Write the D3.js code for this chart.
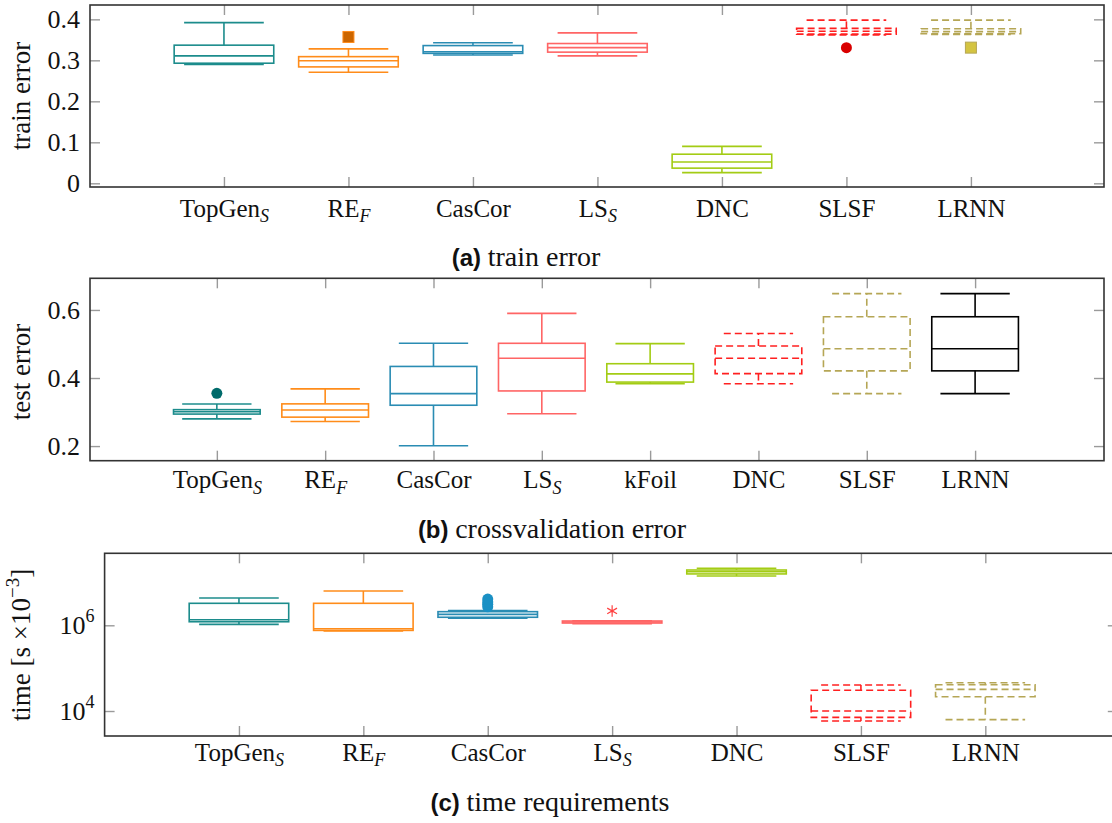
<!DOCTYPE html>
<html><head><meta charset="utf-8">
<script src="https://cdn.jsdelivr.net/npm/d3@7"></script>
<style>
html,body{margin:0;padding:0;background:#fff;}
svg{display:block;}
</style>
</head><body>
<svg id="chart" width="1112" height="823"></svg>
<script>
// ---------- DATA ----------
// each box: [lowerWhisker, q1, median, q3, upperWhisker]
const catsA = ["TopGen_S", "RE_F", "CasCor", "LS_S", "DNC", "SLSF", "LRNN"];
const boxesA = [
  [0.290, 0.293, 0.311, 0.337, 0.392],
  [0.271, 0.284, 0.299, 0.309, 0.328],
  [0.313, 0.317, 0.321, 0.336, 0.343],
  [0.311, 0.320, 0.331, 0.341, 0.367],
  [0.026, 0.037, 0.052, 0.071, 0.090],
  [0.362, 0.364, 0.371, 0.378, 0.398],
  [0.363, 0.365, 0.370, 0.377, 0.398]
];
const outliersA = [[], [0.357], [], [], [], [0.331], [0.331]];
const yTicksA = [0, 0.1, 0.2, 0.3, 0.4];

const catsB = ["TopGen_S", "RE_F", "CasCor", "LS_S", "kFoil", "DNC", "SLSF", "LRNN"];
const boxesB = [
  [0.280, 0.294, 0.301, 0.307, 0.3235],
  [0.272, 0.285, 0.306, 0.324, 0.368],
  [0.201, 0.320, 0.354, 0.434, 0.502],
  [0.295, 0.362, 0.458, 0.502, 0.590],
  [0.383, 0.388, 0.412, 0.442, 0.501],
  [0.383, 0.413, 0.458, 0.494, 0.531],
  [0.354, 0.421, 0.486, 0.580, 0.648],
  [0.354, 0.421, 0.486, 0.580, 0.648]
];
const outliersB = [[0.355], [], [], [], [], [], [], []];
const yTicksB = [0.2, 0.4, 0.6];

const catsC = ["TopGen_S", "RE_F", "CasCor", "LS_S", "DNC", "SLSF", "LRNN"];
const boxesC = [
  [1.05e6, 1.21e6, 1.35e6, 3.26e6, 4.34e6],
  [7.4e5, 7.6e5, 8.3e5, 3.26e6, 6.3e6],
  [1.46e6, 1.54e6, 1.80e6, 2.08e6, 2.20e6],
  [1.09e6, 1.13e6, 1.19e6, 1.26e6, 1.28e6],
  [1.41e7, 1.58e7, 1.78e7, 1.95e7, 2.14e7],
  [5.85e3, 7.1e3, 1.0e4, 3.04e4, 4.05e4],
  [6.3e3, 2.16e4, 3.2e4, 4.1e4, 4.57e4]
];
const outliersC = [[], [], [2.7e6, 3.1e6, 3.5e6, 4.1e6], [2.16e6], [], [], []];
const yTicksC = [1e4, 1e6];

// ---------- STYLES ----------
const styleSeq7 = [
  {c:"#1c8c8c", dash:null, oc:"#006b6b", om:"circle"},
  {c:"#ff8c1a", dash:null, oc:"#cc6600", om:"square"},
  {c:"#2a8cb3", dash:null, oc:"#1a90c4", om:"circle"},
  {c:"#ff6565", dash:null, oc:"#ff4040", om:"star"},
  {c:"#a3cc14", dash:null, oc:"#a3cc14", om:"circle"},
  {c:"#ff2020", dash:"7,4", oc:"#d90000", om:"circle"},
  {c:"#b5a655", dash:"7,4", oc:"#d4c441", om:"square"}
];
const styleSeq8 = styleSeq7.concat([{c:"#000000", dash:null, oc:"#000", om:"circle"}]);

const svg = d3.select("#chart");
const SERIF = "'Liberation Serif', 'Times New Roman', serif";

function setCatLabel(textSel, lab, fs){
  textSel.text(null);
  const parts = lab.split("_");
  textSel.append("tspan").text(parts[0]);
  if (parts.length > 1) {
    textSel.append("tspan").attr("font-style","italic").attr("font-size", fs*0.72)
      .attr("dy", fs*0.22).text(parts[1]);
  }
}

function drawPanel(o){
  const g = svg.append("g");
  const x = d3.scaleLinear().domain(o.xDomain).range([o.left, o.right]);
  const y = o.y.range([o.bottom, o.top]);
  const idx = o.cats.map((d,i)=>i+1);

  // tick marks (inward) via d3 axes
  const tickCol = "#9a9a9a";
  const axL = g.append("g").attr("transform", `translate(${o.left},0)`)
    .call(d3.axisLeft(y).tickValues(o.yTicks).tickSize(-10).tickPadding(10).tickFormat(o.yFmt));
  const axR = g.append("g").attr("transform", `translate(${o.right},0)`)
    .call(d3.axisRight(y).tickValues(o.yTicks).tickSize(-10).tickFormat(""));
  const axB = g.append("g").attr("transform", `translate(0,${o.bottom})`)
    .call(d3.axisBottom(x).tickValues(idx).tickSize(-10).tickPadding(o.labPad).tickFormat(i=>o.cats[i-1]));
  const axT = g.append("g").attr("transform", `translate(0,${o.top})`)
    .call(d3.axisTop(x).tickValues(idx).tickSize(-10).tickFormat(""));
  [axL, axR, axB, axT].forEach(a=>{
    a.attr("font-family", SERIF);
    a.select(".domain").remove();
    a.selectAll(".tick line").attr("stroke", tickCol).attr("stroke-width", 1.4);
    a.selectAll("text").attr("fill","#111").attr("font-family", SERIF);
  });
  axL.selectAll("text").attr("font-size", 26);
  if (o.logLabels) {
    axL.selectAll("text").each(function(d){
      const t = d3.select(this); t.text(null);
      t.append("tspan").text("10");
      t.append("tspan").attr("font-size", 18).attr("dy", -12).text(Math.round(Math.log10(d)));
    });
  }
  axB.selectAll("text").attr("font-size", 25).each(function(d){
    setCatLabel(d3.select(this), o.cats[d-1], 25);
  });

  // boxes
  const bw = 0.8, cw = 0.64;
  o.boxes.forEach((b,i)=>{
    const st = o.styles[i];
    const cx = x(i+1);
    const bx = g.append("g").attr("fill","none").attr("stroke", st.c).attr("stroke-width", 1.6);
    if (st.dash) bx.attr("stroke-dasharray", st.dash);
    const w = x(1+bw/2)-x(1), c = x(1+cw/2)-x(1);
    bx.append("rect").attr("x", cx-w).attr("width", 2*w)
      .attr("y", y(b[3])).attr("height", Math.max(0.5, y(b[1])-y(b[3])));
    bx.append("line").attr("x1", cx-w).attr("x2", cx+w).attr("y1", y(b[2])).attr("y2", y(b[2]));
    bx.append("line").attr("x1", cx).attr("x2", cx).attr("y1", y(b[3])).attr("y2", y(b[4]));
    bx.append("line").attr("x1", cx).attr("x2", cx).attr("y1", y(b[1])).attr("y2", y(b[0]));
    bx.append("line").attr("x1", cx-c).attr("x2", cx+c).attr("y1", y(b[4])).attr("y2", y(b[4]));
    bx.append("line").attr("x1", cx-c).attr("x2", cx+c).attr("y1", y(b[0])).attr("y2", y(b[0]));
    o.outliers[i].forEach(v=>{
      if (st.om === "square") {
        g.append("rect").attr("x", cx-5.5).attr("y", y(v)-5.5).attr("width", 11).attr("height", 11)
          .attr("fill", st.oc).attr("stroke", st.c).attr("stroke-width", 1);
      } else if (st.om === "star") {
        g.append("path").attr("transform", `translate(${cx},${y(v)})`)
          .attr("d", d3.symbol(d3.symbolAsterisk, 90)())
          .attr("fill","none").attr("stroke", st.oc).attr("stroke-width", 1.2);
      } else {
        g.append("circle").attr("cx", cx).attr("cy", y(v)).attr("r", 5.5).attr("fill", st.oc);
      }
    });
  });

  // frame
  g.append("rect").attr("x", o.left).attr("y", o.top).attr("width", o.right-o.left)
    .attr("height", o.bottom-o.top).attr("fill","none").attr("stroke","#333").attr("stroke-width",1.6);

  // y label
  const yl = g.append("text").attr("transform", `translate(${o.ylx},${o.yly}) rotate(-90)`)
    .attr("text-anchor","middle").attr("font-family", SERIF).attr("font-size", 27).attr("fill","#111");
  if (o.ylabelSup) {
    yl.append("tspan").text(o.ylabel);
    yl.append("tspan").attr("font-size", 19).attr("dy", -11).text(o.ylabelSup);
    yl.append("tspan").attr("dy", 11).text("]");
  } else yl.text(o.ylabel);

  // caption
  const cap = g.append("text").attr("x", o.capX).attr("y", o.capY).attr("text-anchor","middle")
    .attr("fill","#111");
  cap.append("tspan").attr("font-family","'Liberation Sans', Arial, sans-serif").attr("font-weight","bold")
    .attr("font-size", 24).text(o.capTag + " ");
  cap.append("tspan").attr("font-family", SERIF).attr("font-size", 28).text(o.capText);
}

drawPanel({
  left:90, right:1104, top:5, bottom:187,
  xDomain:[-0.076, 8.069], y:d3.scaleLinear().domain([-0.009, 0.435]),
  cats:catsA, boxes:boxesA, outliers:outliersA, styles:styleSeq7,
  yTicks:yTicksA, yFmt:d=>d===0?"0":d3.format(".1f")(d), labPad:12,
  ylabel:"train error", ylx:30, yly:96,
  capTag:"(a)", capText:"train error", capX:526, capY:266
});
drawPanel({
  left:90, right:1104, top:278.3, bottom:460.7,
  xDomain:[-0.171, 9.19], y:d3.scaleLinear().domain([0.157, 0.693]),
  cats:catsB, boxes:boxesB, outliers:outliersB, styles:styleSeq8,
  yTicks:yTicksB, yFmt:d3.format(".1f"), labPad:10,
  ylabel:"test error", ylx:30, yly:372,
  capTag:"(b)", capText:"crossvalidation error", capX:552, capY:538
});
drawPanel({
  left:104.6, right:1117.8, top:553.3, bottom:736,
  xDomain:[-0.08, 8.065], y:d3.scaleLog().domain([Math.pow(10,3.417), Math.pow(10,7.68)]),
  cats:catsC, boxes:boxesC, outliers:outliersC, styles:styleSeq7,
  yTicks:yTicksC, yFmt:d=>String(d), logLabels:true, labPad:7,
  ylabel:"time [s ×10", ylabelSup:"−3", ylx:30, yly:645,
  capTag:"(c)", capText:"time requirements", capX:550, capY:811
});
</script>
</body></html>
